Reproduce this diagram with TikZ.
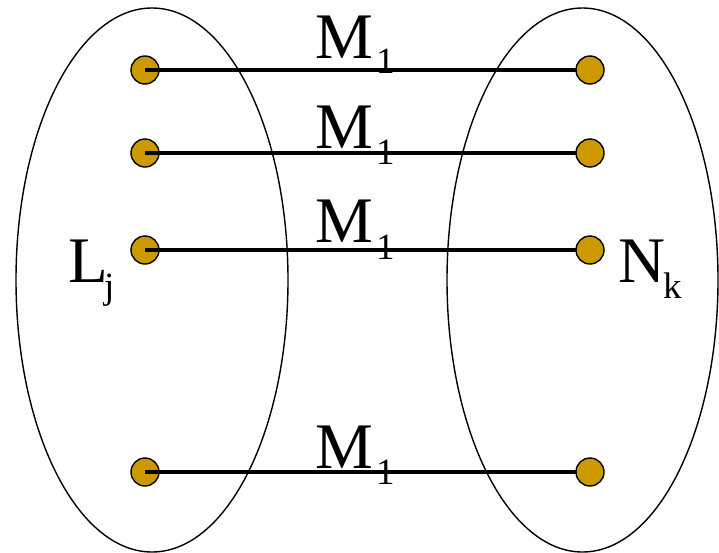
\documentclass[tikz,border=0pt]{standalone}
\usepackage{fontspec}
\setmainfont{Liberation Serif}
\definecolor{dotgold}{RGB}{204,153,0}
\begin{document}
\begin{tikzpicture}[x=1pt,y=-1pt,
  dot/.style={circle,draw=black,line width=1.4pt,fill=dotgold,minimum size=28pt,inner sep=0pt},
  link/.style={line width=4pt},
  setring/.style={line width=1.4pt},
  big/.style={inner sep=0pt,anchor=base west,font=\fontsize{65}{70}\selectfont},
  small/.style={inner sep=0pt,anchor=base west,font=\fontsize{37}{40}\selectfont}]
\useasboundingbox (0,0) rectangle (719,552);
\draw[setring] (152,280) ellipse [x radius=136, y radius=272];
\draw[setring] (582.5,280) ellipse [x radius=135.5, y radius=272];
% left dots
\node[dot] (l1) at (145,70) {};
\node[dot] (l2) at (145,153) {};
\node[dot] (l3) at (145,250) {};
\node[dot] (l4) at (145,472) {};
% connectors
\coordinate (r1c) at (590,70);
\coordinate (r2c) at (590,153);
\coordinate (r3c) at (590,250);
\coordinate (r4c) at (590,472);
\draw[link] (l1.center) -- (r1c);
\draw[link] (l2.center) -- (r2c);
\draw[link] (l3.center) -- (r3c);
\draw[link] (l4.center) -- (r4c);
% right dots
\node[dot] (r1) at (r1c) {};
\node[dot] (r2) at (r2c) {};
\node[dot] (r3) at (r3c) {};
\node[dot] (r4) at (r4c) {};
% labels
\node[big] (m1) at (315,58) {M};
\node[small] (s1) at (376,73) {1};
\node[big] (m2) at (315,148) {M};
\node[small] (s2) at (376,164) {1};
\node[big] (m3) at (315,242) {M};
\node[small] (s3) at (376,259) {1};
\node[big] (m4) at (315,468) {M};
\node[small] (s4) at (376,484) {1};
\node[big] (L) at (68,282) {L};
\node[small] (j) at (104,298) {j};
\node[big] (N) at (618,282) {N};
\node[small] (k) at (663,298) {k};
\end{tikzpicture}
\end{document}
